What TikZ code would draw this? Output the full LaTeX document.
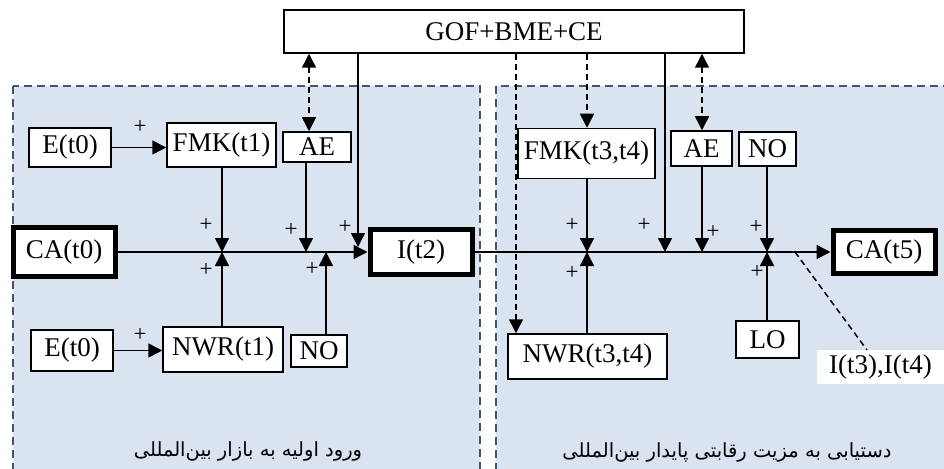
\documentclass[tikz,border=0pt]{standalone}
\usepackage{fontspec}
\setmainfont{Liberation Serif}
\newfontfamily\arabicfont[Script=Arabic]{DejaVu Sans}
\TeXXeTstate=1
\usetikzlibrary{arrows.meta}
\definecolor{panelFill}{HTML}{DAE3F0}
\definecolor{panelEdge}{HTML}{44546A}

\begin{document}
\begin{tikzpicture}[x=1pt, y=-1pt, font=\fontsize{27}{30}\selectfont,
    box/.style={draw, fill=white, line width=1.5pt, inner sep=0pt},
    thickbox/.style={box, line width=5pt},
    arr/.style={line width=1.5pt, -{Triangle[length=14pt,width=14pt]}},
    dasharr/.style={arr, dash pattern=on 6pt off 4pt},
    twoarr/.style={dasharr, {Triangle[length=14pt,width=14pt]}-{Triangle[length=14pt,width=14pt]}},
    panel/.style={fill=panelFill, draw=panelEdge, line width=1.5pt, dash pattern=on 8pt off 5pt},
    plus/.style={font=\fontsize{23}{24}\selectfont, inner sep=0pt},
    fatext/.style={font=\arabicfont\fontsize{19.5}{22}\selectfont, inner sep=0pt}]
    \useasboundingbox (0,0) rectangle (944,468);
    \draw[panel] (13,86) rectangle (480,480);
    \draw[panel] (496,86) rectangle (960,480);

    \node[box, minimum width=460, minimum height=43] (gof) at (514,31.5) {GOF+BME+CE};
    % first stage
    \node[box, minimum width=82, minimum height=39] (e0a) at (70,147.5) {E(t0)};
    \node[box, minimum width=109, minimum height=44] (fmk1) at (221.5,145) {FMK(t1)};
    \node[box, minimum width=68, minimum height=30] (ae1) at (317,147) {AE};
    \node[thickbox, minimum width=102, minimum height=49] (ca0) at (64,252) {CA(t0)};
    \node[thickbox, minimum width=102, minimum height=45] (i2) at (421,252) {I(t2)};
    \node[box, minimum width=82, minimum height=41] (e0b) at (72,350.5) {E(t0)};
    \node[box, minimum width=120, minimum height=45] (nwr1) at (223,349.5) {NWR(t1)};
    \node[box, minimum width=56, minimum height=32] (no1) at (319,351) {NO};
    % second stage
    \node[box, minimum width=137, minimum height=50] (fmk34) at (586.5,153.5) {FMK(t3,t4)};
    \node[box, minimum width=61, minimum height=35] (ae2) at (701.5,148.5) {AE};
    \node[box, minimum width=57, minimum height=34] (no2) at (767.5,149) {NO};
    \node[thickbox, minimum width=102, minimum height=43] (ca5) at (884,252) {CA(t5)};
    \node[box, minimum width=159, minimum height=45] (nwr34) at (587.5,356.5) {NWR(t3,t4)};
    \node[box, minimum width=63, minimum height=37] (lo) at (767.5,339.5) {LO};
    \node[fill=white, inner sep=0pt, minimum width=127, minimum height=34] (i34) at (880.5,367) {I(t3),I(t4)};

    \coordinate (j1) at (222,252);
    \coordinate (j2) at (306,252);
    \coordinate (j3) at (326,252);
    \coordinate (i2in) at (358,247);
    \coordinate (j4) at (587,252);
    \coordinate (j5) at (665,252);
    \coordinate (j6) at (702,252);
    \coordinate (j7) at (767,252);
    \coordinate (it) at (795,252);
    \coordinate (itend) at (867,350);

    \draw[arr] (ca0.east |- j1) -- (i2.west |- j1);
    \draw[arr] (i2.east |- j1) -- (ca5.west |- j1);
    \draw[arr] (e0a) -- (fmk1.west |- e0a);
    \draw[arr] (e0b) -- (nwr1.west |- e0b);
    \draw[arr] (fmk1.south -| j1) -- (j1);
    \draw[arr] (nwr1.north -| j1) -- (j1);
    \draw[arr] (ae1.south -| j2) -- (j2);
    \draw[arr] (no1.north -| j3) -- (j3);
    \draw[arr] (gof.south -| i2in) -- (i2in);
    \draw[twoarr] (gof.south -| 309,0) -- (ae1.north -| 309,0);
    \draw[arr] (fmk34.south -| j4) -- (j4);
    \draw[arr] (nwr34.north -| j4) -- (j4);
    \draw[arr] (gof.south -| j5) -- (j5);
    \draw[arr] (ae2.south -| j6) -- (j6);
    \draw[arr] (no2.south -| j7) -- (j7);
    \draw[arr] (lo.north -| j7) -- (j7);
    \draw[dasharr] (gof.south -| j4) -- (fmk34.north -| j4);
    \draw[dasharr] (gof.south -| 516,0) -- (nwr34.north -| 516,0);
    \draw[twoarr] (gof.south -| j6) -- (ae2.north -| j6);
    \draw[line width=1.5pt, dash pattern=on 6pt off 4pt] (it) -- (itend);

    \foreach \px/\py [count=\k] in {140/127, 206/225, 206/270, 291/230, 312/269, 345/227, 140/335,
      572/225, 572/273, 644/225, 713/232, 756/227, 757/272}{
      \node[plus] (p\k) at (\px,\py) {+};
    }

    \node[fatext] (lab1) at (248,451) {\beginR ورود اولیه به بازار بین^^^^200cالمللی\endR};
    \node[fatext] (lab2) at (727,452) {\beginR دستیابی به مزیت رقابتی پایدار بین^^^^200cالمللی\endR};
\end{tikzpicture}
\end{document}
